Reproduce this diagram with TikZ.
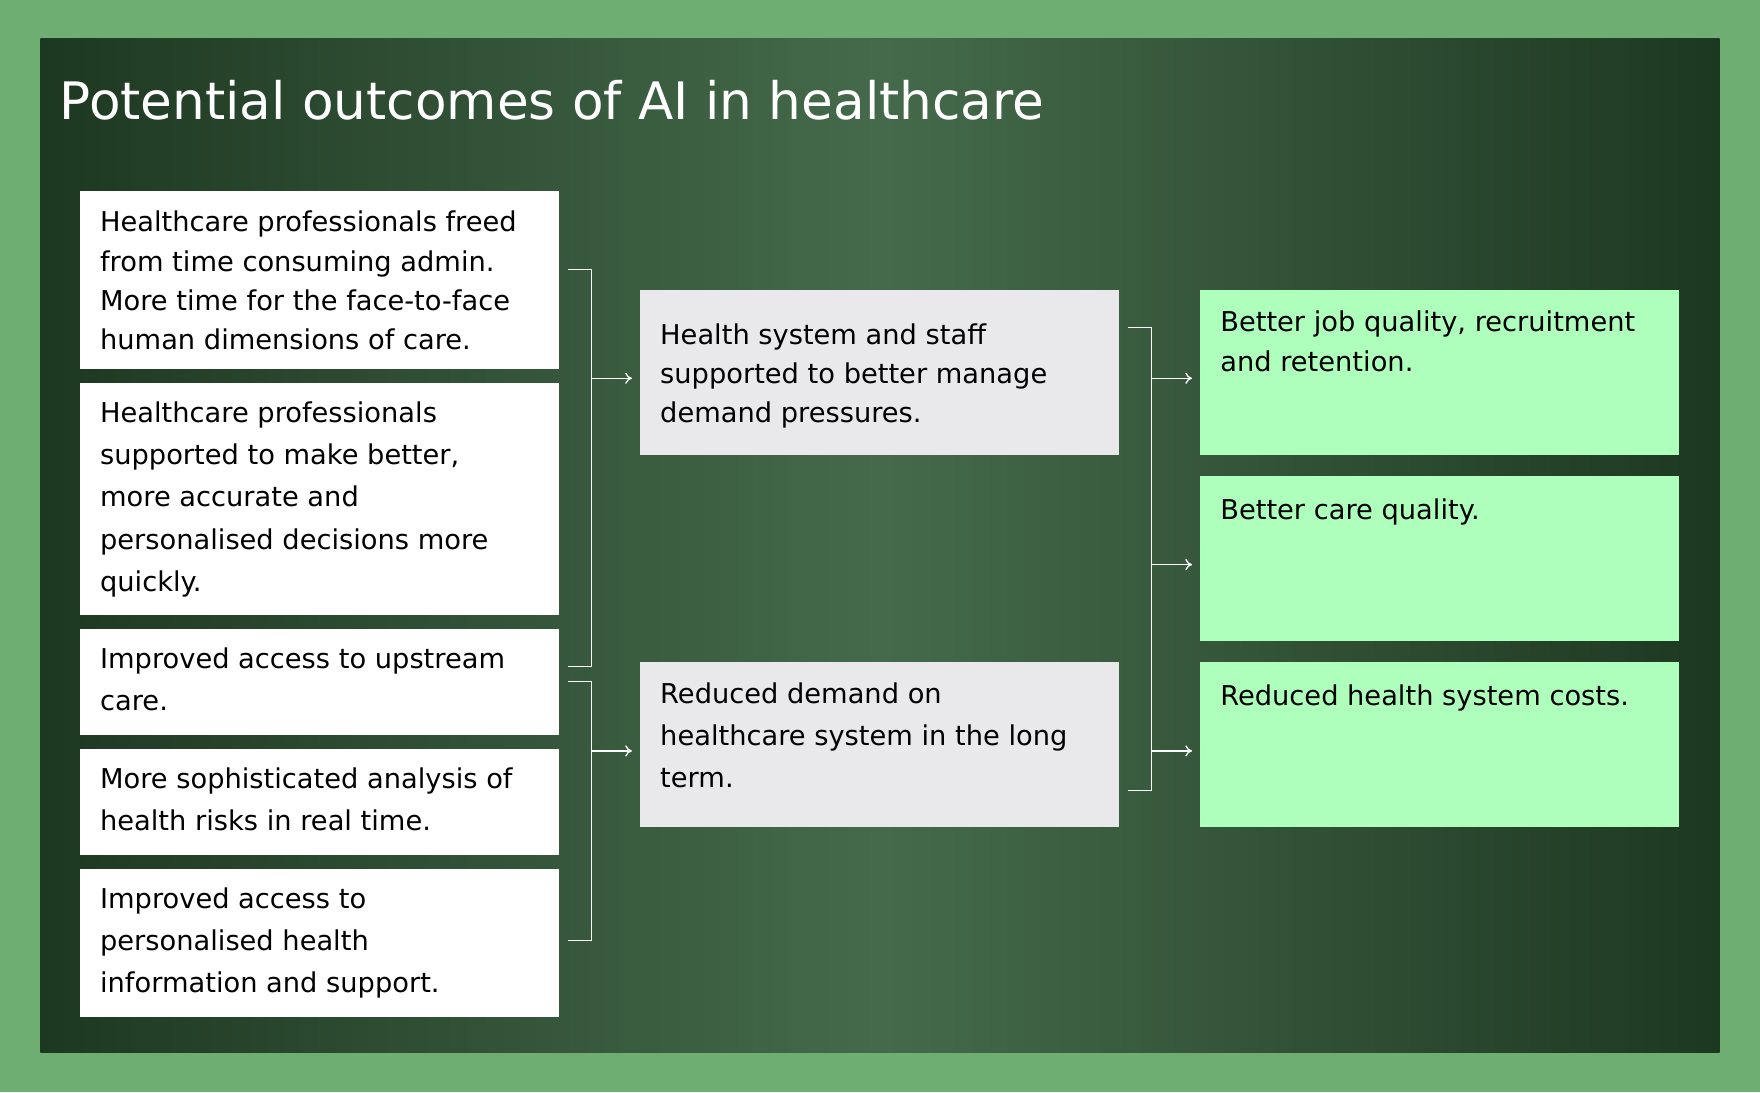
\documentclass[tikz,border=0pt]{standalone}
\usepackage{fontspec}
\setmainfont{DejaVu Sans}
\usetikzlibrary{arrows.meta}
\definecolor{bgg}{HTML}{6FAE72}
\definecolor{pd}{HTML}{1D3821}
\definecolor{pm}{HTML}{456A4B}
\definecolor{gr}{HTML}{E9E9EB}
\definecolor{lg}{HTML}{ADFFBB}
\tikzset{
 txt/.style={anchor=north west,align=left,font=\fontsize{24.3}{35}\selectfont,inner sep=0pt},
 txtb/.style={txt,font=\fontsize{24.3}{37.5}\selectfont},
 conn/.style={white,line width=1.2pt},
 arr/.style={white,line width=1.2pt,-{To[length=6pt,width=10pt]}}
}
\begin{document}
\begin{tikzpicture}[x=1pt,y=-1pt]
\useasboundingbox (0,0) rectangle (1568,973);
\fill[bgg] (0,0) rectangle (1568,973);
\shade[left color=pd,right color=pd,middle color=pm] (36,34) rectangle (1532,938);
\node[anchor=west,white,font=\fontsize{46}{50}\selectfont,inner sep=0pt] (title) at (53,89) {Potential outcomes of AI in healthcare};
% left boxes
\foreach \n/\y/\h in {l1/170/159,l2/341/207,l3/560/95,l4/667/95,l5/774/132}
  \fill[white] (71,\y) rectangle (498,\y+\h) coordinate (\n);
\node[txt] (t1) at (89,188) {Healthcare professionals freed\\from time consuming admin.\\More time for the face-to-face\\human dimensions of care.};
\node[txtb] (t2) at (89,358) {Healthcare professionals\\supported to make better,\\more accurate and\\personalised decisions more\\quickly.};
\node[txtb] (t3) at (89,577) {Improved access to upstream\\care.};
\node[txtb] (t4) at (89,684) {More sophisticated analysis of\\health risks in real time.};
\node[txtb] (t5) at (89,791) {Improved access to\\personalised health\\information and support.};
% middle
\fill[gr] (570,258) rectangle (997,405);
\fill[gr] (570,590) rectangle (997,737);
\node[txt] (m1) at (588,288) {Health system and staff\\supported to better manage\\demand pressures.};
\node[txtb] (m2) at (588,608) {Reduced demand on\\healthcare system in the long\\term.};
% right
\fill[lg] (1069,258) rectangle (1496,405);
\fill[lg] (1069,424) rectangle (1496,571);
\fill[lg] (1069,590) rectangle (1496,737);
\node[txt] (r1) at (1087,277) {Better job quality, recruitment\\and retention.};
\node[txt] (r2) at (1087,444) {Better care quality.};
\node[txt] (r3) at (1087,610) {Reduced health system costs.};
% connectors
\coordinate (a1) at (506,240); \coordinate (a2) at (506,594);
\coordinate (a3) at (527,337); \coordinate (ae) at (563,337);
\draw[conn] (a1) -- (527,240) -- (527,594) -- (a2);
\draw[arr] (a3) -- (ae);
\coordinate (b1) at (506,607); \coordinate (b2) at (506,838);
\coordinate (b3) at (527,669); \coordinate (be) at (563,669);
\draw[conn] (b1) -- (527,607) -- (527,838) -- (b2);
\draw[arr] (b3) -- (be);
\coordinate (c1) at (1005,292); \coordinate (c2) at (1005,704);
\draw[conn] (c1) -- (1026,292) -- (1026,704) -- (c2);
\foreach \y in {337,503,669} \draw[arr] (1026,\y) -- (1062,\y);
\end{tikzpicture}
\end{document}
